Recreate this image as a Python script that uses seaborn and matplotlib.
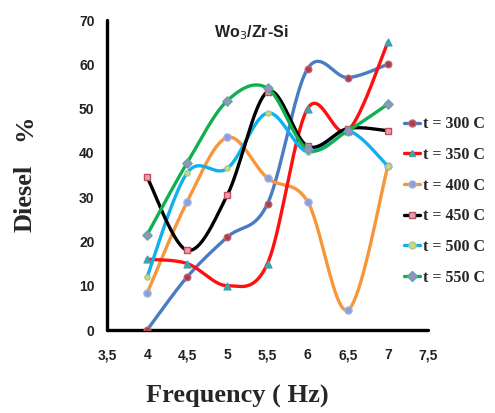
import numpy as np
import pandas as pd
import matplotlib
matplotlib.use("Agg")
import matplotlib.pyplot as plt
from matplotlib.lines import Line2D
import seaborn as sns

# ---- data ----
frequency = [4.0, 4.5, 5.0, 5.5, 6.0, 6.5, 7.0]
t300 = [0, 12, 21, 28.5, 59, 57, 60]
t350 = [16, 15, 10, 15, 50, 45, 65]
t400 = [8.3, 29, 43.5, 34.3, 29, 4.5, 37]
t450 = [34.5, 18, 30.5, 53.8, 41.5, 45.5, 45]
t500 = [12, 35.5, 36.5, 49, 40.2, 45, 37]
t550 = [21.5, 37.8, 51.8, 54.6, 40.8, 45, 51]
labels = ["t = 300 C", "t = 350 C", "t = 400 C", "t = 450 C", "t = 500 C", "t = 550 C"]
x_ticks = [3.5, 4, 4.5, 5, 5.5, 6, 6.5, 7, 7.5]
x_tick_labels = ["3,5", "4", "4,5", "5", "5,5", "6", "6,5", "7", "7,5"]
y_ticks = [0, 10, 20, 30, 40, 50, 60, 70]

series = [t300, t350, t400, t450, t500, t550]
line_colors = ["#4A7CC4", "#FF1010", "#F7963A", "#000000", "#10B0F0", "#10B050"]
marker_colors = ["#A8404A", "#3BA8A8", "#8E9ED8", "#E8A0B0", "#C8D890", "#A08CC8"]
marker_edges = ["#C06070", "#40A0B0", "#A0B0E0", "#C05060", "#B0C880", "#60A8A0"]
markers = ["o", "^", "o", "s", "o", "D"]
msizes = [22, 24, 26, 16, 14, 22]
zorders = [3, 4, 3, 5, 4, 6]


def smooth(xs, ys, n=40):
    """Catmull-Rom style smoothing for drawing (like a spreadsheet 'smoothed line')."""
    p = np.column_stack([xs, ys]).astype(float)
    p = np.vstack([p[0], p, p[-1]])
    out = []
    t = np.linspace(0, 1, n, endpoint=False)
    for i in range(1, len(p) - 2):
        p0, p1, p2, p3 = p[i - 1], p[i], p[i + 1], p[i + 2]
        m1 = (p2 - p0) / 2.0
        m2 = (p3 - p1) / 2.0
        h00 = 2 * t**3 - 3 * t**2 + 1
        h10 = t**3 - 2 * t**2 + t
        h01 = -2 * t**3 + 3 * t**2
        h11 = t**3 - t**2
        seg = (h00[:, None] * p1 + h10[:, None] * m1 + h01[:, None] * p2 + h11[:, None] * m2)
        out.append(seg)
    out.append(p[-2][None, :])
    return np.vstack(out)


sns.set_style("white")
fig = plt.figure(figsize=(4.95, 4.13), dpi=100)
ax = fig.add_axes([107 / 495, 1 - 330 / 413, 321 / 495, 310 / 413])

for vals, lc, mc, me, mk, ms, lab, z in zip(series, line_colors, marker_colors, marker_edges,
                                           markers, msizes, labels, zorders):
    curve = smooth(frequency, vals)
    dfc = pd.DataFrame({"x": curve[:, 0], "y": curve[:, 1]})
    sns.lineplot(data=dfc, x="x", y="y", sort=False, estimator=None, color=lc,
                 linewidth=2.4, ax=ax, zorder=z, legend=False)
    dfp = pd.DataFrame({"x": frequency, "y": vals})
    sns.scatterplot(data=dfp, x="x", y="y", color=mc, edgecolor=me, linewidth=1.0,
                    marker=mk, s=ms, ax=ax, zorder=z + 0.5, legend=False)

ax.set_xlim(3.5, 7.5)
ax.set_ylim(0, 70)
ax.set_xticks(x_ticks)
ax.set_xticklabels(x_tick_labels)
ax.set_yticks(y_ticks)
for s in ["top", "right"]:
    ax.spines[s].set_visible(False)
for s in ["left", "bottom"]:
    ax.spines[s].set_color("black")
    ax.spines[s].set_linewidth(2.4)
    ax.spines[s].set_capstyle("round")
ax.tick_params(axis="both", which="major", direction="out", length=3, width=2,
               color="black", labelsize=10)
ax.tick_params(axis="x", pad=10)
ax.tick_params(axis="y", pad=6)
for lab in ax.get_xticklabels() + ax.get_yticklabels():
    lab.set_fontfamily("Liberation Sans")
    lab.set_fontweight("bold")
    lab.set_color("#222222")

ax.set_xlabel("")
ax.set_ylabel("")
fig.text(237 / 495, 1 - 396 / 413, "Frequency ( Hz)", ha="center", va="center",
         fontsize=19, fontweight="bold", family="Liberation Serif")
fig.text(25 / 495, 1 - 198 / 413, "Diesel", ha="center", va="center", rotation=90,
         fontsize=19, fontweight="bold", family="Liberation Serif")
fig.text(25 / 495, 1 - 128 / 413, "%", ha="center", va="center", rotation=90,
         fontsize=19, fontweight="bold", family="Liberation Serif")

ax.text(251 / 495, 1 - 33 / 413, r"Wo$_3$/Zr-Si", transform=fig.transFigure,
        ha="center", va="center", fontsize=11.5, fontweight="bold", family="Liberation Sans",
        color="#222222")

handles = [Line2D([0], [0], color=lc, lw=2.4, marker=mk, markersize=5,
                  markerfacecolor=mc, markeredgecolor=me)
           for lc, mc, me, mk in zip(line_colors, marker_colors, marker_edges, markers)]
leg = fig.legend(handles, labels, loc="upper left", bbox_to_anchor=(401 / 495, 1 - 113 / 413),
                 frameon=False, handlelength=1.0, handletextpad=0.2, labelspacing=0.92,
                 borderaxespad=0, borderpad=0.2,
                 prop={"family": "Liberation Serif", "weight": "bold", "size": 11.5})

fig.savefig("out.png", dpi=100)
